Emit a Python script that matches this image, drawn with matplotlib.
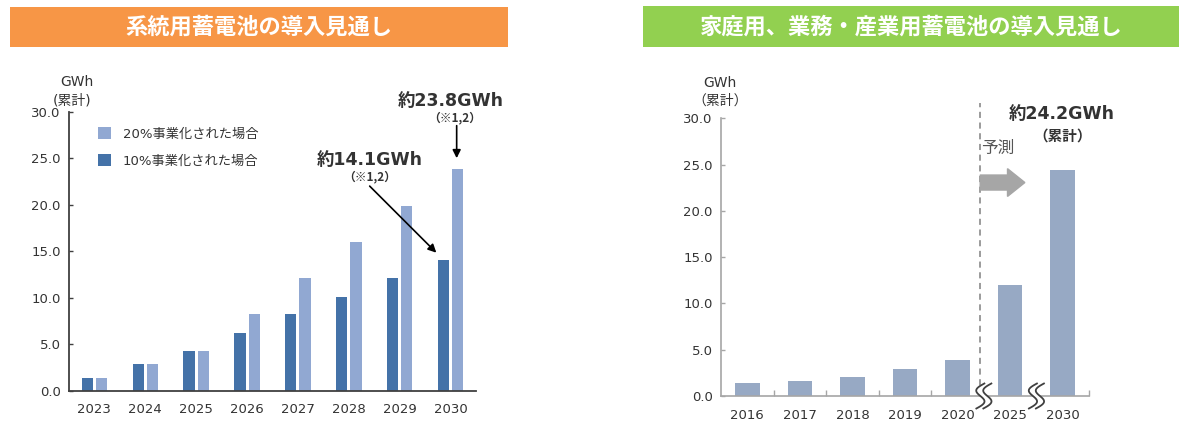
import matplotlib
matplotlib.use("Agg")
import matplotlib.pyplot as plt
from matplotlib.patches import Rectangle, FancyArrow, Polygon
import numpy as np

# ---------------- data ----------------
left_years = ["2023", "2024", "2025", "2026", "2027", "2028", "2029", "2030"]
left_10pct = [1.4, 2.9, 4.3, 6.2, 8.2, 10.1, 12.1, 14.1]
left_20pct = [1.4, 2.9, 4.3, 8.2, 12.1, 16.0, 19.9, 23.8]
left_labels = ["10%事業化された場合", "20%事業化された場合"]

right_years = ["2016", "2017", "2018", "2019", "2020", "2025", "2030"]
right_values = [1.4, 1.6, 2.0, 2.9, 3.9, 12.0, 24.4]

y_ticks = [0.0, 5.0, 10.0, 15.0, 20.0, 25.0, 30.0]

# ---------------- figure ----------------
W, H = 1188, 436
fig = plt.figure(figsize=(W / 100, H / 100), dpi=100)
fig.patch.set_facecolor("white")

JP = ["Noto Sans CJK JP", "DejaVu Sans"]
MIX = ["DejaVu Sans", "Noto Sans CJK JP"]
TXT = "#333333"


def fx(x):
    return x / W


def fy(y):
    return 1 - y / H


def axes_rect(x0, y_top, x1, y_bot):
    return [fx(x0), fy(y_bot), (x1 - x0) / W, (y_bot - y_top) / H]


# title boxes
fig.patches.append(Rectangle((fx(10), fy(47)), (508 - 10) / W, 40 / H,
                             transform=fig.transFigure, facecolor="#F79646",
                             edgecolor="none", zorder=0))
fig.text(fx(259), fy(27), "系統用蓄電池の導入見通し", family=JP, fontsize=16,
         fontweight="bold", color="white", ha="center", va="center")
fig.patches.append(Rectangle((fx(643), fy(47)), (1179 - 643) / W, 41 / H,
                             transform=fig.transFigure, facecolor="#92D050",
                             edgecolor="none", zorder=0))
fig.text(fx(911), fy(27), "家庭用、業務・産業用蓄電池の導入見通し", family=JP,
         fontsize=16, fontweight="bold", color="white", ha="center", va="center")

# ---------------- left chart ----------------
axL = fig.add_axes(axes_rect(69, 111.7, 476, 390.7))
xL = np.arange(len(left_years))
bw = 0.222
dark = "#4472A8"
light = "#91A8D2"
b10 = axL.bar(xL - 0.14, left_10pct, bw, color=dark, label=left_labels[0], zorder=2)
b20 = axL.bar(xL + 0.14, left_20pct, bw, color=light, label=left_labels[1], zorder=2)
axL.set_xlim(-0.5, len(left_years) - 0.5)
axL.set_ylim(0, 30)
axL.set_yticks(y_ticks)
axL.set_yticklabels([f"{v:.1f}" for v in y_ticks])
axL.set_xticks(xL)
axL.set_xticklabels(left_years)
for s in ["top", "right"]:
    axL.spines[s].set_visible(False)
for s in ["left", "bottom"]:
    axL.spines[s].set_color("#404040")
    axL.spines[s].set_linewidth(1.3)
axL.tick_params(axis="y", direction="in", length=3, width=1, color="#404040",
                labelsize=9.5, labelcolor=TXT, pad=6)
axL.tick_params(axis="x", length=0, labelsize=9.5, labelcolor=TXT, pad=9)
for lab in axL.get_xticklabels() + axL.get_yticklabels():
    lab.set_family(MIX)

leg = axL.legend(handles=[b20, b10], labels=[left_labels[1], left_labels[0]],
                 loc="upper left", bbox_to_anchor=(0.072, 0.945), frameon=False,
                 prop={"family": MIX, "size": 9.5}, handlelength=1.0,
                 handleheight=1.0, handletextpad=0.85, labelspacing=1.05,
                 borderpad=0, borderaxespad=0)
for t in leg.get_texts():
    t.set_color(TXT)

fig.text(fx(77), fy(81.5), "GWh", family=MIX, fontsize=10, color=TXT,
         ha="center", va="center")
fig.text(fx(72), fy(100), "(累計)", family=MIX, fontsize=10, color=TXT,
         ha="center", va="center")

axL.text(5.41, 24.8, "約14.1GWh", family=MIX, fontsize=12.5, fontweight="bold",
         color=TXT, ha="center", va="center")
axL.text(5.41, 23.0, "（※1,2）", family=JP, fontsize=8.5, fontweight="bold",
         color=TXT, ha="center", va="center")
axL.annotate("", xy=(6.72, 14.84), xytext=(5.41, 22.0),
             arrowprops=dict(arrowstyle="-|>", color="black", lw=1.2,
                             mutation_scale=12, shrinkA=0, shrinkB=0))
axL.text(7.0, 31.2, "約23.8GWh", family=MIX, fontsize=12.5, fontweight="bold",
         color=TXT, ha="center", va="center", clip_on=False)
axL.text(7.08, 29.35, "（※1,2）", family=JP, fontsize=8.5, fontweight="bold",
         color=TXT, ha="center", va="center", clip_on=False)
axL.annotate("", xy=(7.12, 25.0), xytext=(7.12, 28.5),
             arrowprops=dict(arrowstyle="-|>", color="black", lw=1.2,
                             mutation_scale=12, shrinkA=0, shrinkB=0),
             annotation_clip=False)

# ---------------- right chart ----------------
axR = fig.add_axes(axes_rect(721, 118.3, 1089, 396))
xR = np.arange(len(right_years))
axR.bar(xR, right_values, 0.47, color="#97A9C4", zorder=2)
axR.set_xlim(-0.5, len(right_years) - 0.5)
axR.set_ylim(0, 30)
axR.set_yticks(y_ticks)
axR.set_yticklabels([f"{v:.1f}" for v in y_ticks])
axR.set_xticks(xR)
axR.set_xticklabels(right_years)
axR.set_xticks([0.5, 1.5, 2.5, 3.5, 6.5], minor=True)
for s in ["top", "right"]:
    axR.spines[s].set_visible(False)
for s in ["left", "bottom"]:
    axR.spines[s].set_color("#A6A6A6")
    axR.spines[s].set_linewidth(1.2)
axR.tick_params(axis="y", direction="in", length=3, width=1, color="#A6A6A6",
                labelsize=9.5, labelcolor=TXT, pad=6)
axR.tick_params(axis="x", which="major", length=0, labelsize=9.5,
                labelcolor=TXT, pad=9)
axR.tick_params(axis="x", which="minor", direction="in", length=4, width=1,
                color="#A6A6A6")
for lab in axR.get_xticklabels() + axR.get_yticklabels():
    lab.set_family(MIX)

# forecast divider
axR.plot([4.43, 4.43], [0, 31.6], color="#808080", lw=1.1,
         linestyle=(0, (4, 3)), clip_on=False, zorder=3)
axR.add_patch(FancyArrow(4.43, 23.06, 0.85, 0, width=1.62, head_width=3.0,
                         head_length=0.33, length_includes_head=True,
                         color="#A6A6A6", zorder=3))
axR.text(4.45, 26.7, "予測", family=JP, fontsize=12, color="#555555",
         ha="left", va="center")
axR.text(5.98, 30.5, "約24.2GWh", family=MIX, fontsize=12.5, fontweight="bold",
         color=TXT, ha="center", va="center", clip_on=False)
axR.text(5.99, 28.1, "（累計）", family=JP, fontsize=10.5, fontweight="bold",
         color=TXT, ha="center", va="center", clip_on=False)

fig.text(fx(720), fy(82.5), "GWh", family=MIX, fontsize=10, color=TXT,
         ha="center", va="center")
fig.text(fx(720), fy(100.5), "（累計）", family=JP, fontsize=10, color=TXT,
         ha="center", va="center")

# axis break marks (wavy double strokes)
axw, axh = 368.0, 277.7
t = np.linspace(-1, 1, 60)
sx = -4.0 * t + 6.0 * np.sin(np.pi * t)
sy = -12.5 * t
for xi in [4.5, 5.5]:
    cx = (xi + 0.5) / len(right_years)
    x1 = cx + (sx - 3.5) / axw
    x2 = cx + (sx + 3.5) / axw
    yy = sy / axh
    poly = np.column_stack([np.concatenate([x1, x2[::-1]]),
                            np.concatenate([yy, yy[::-1]])])
    axR.add_patch(Polygon(poly, closed=True, facecolor="white", edgecolor="none",
                          transform=axR.transAxes, clip_on=False, zorder=4))
    axR.plot(x1, yy, color="#404040", lw=1.3, transform=axR.transAxes,
             clip_on=False, zorder=5)
    axR.plot(x2, yy, color="#404040", lw=1.3, transform=axR.transAxes,
             clip_on=False, zorder=5)

fig.savefig("out.png", dpi=100, facecolor="white")
